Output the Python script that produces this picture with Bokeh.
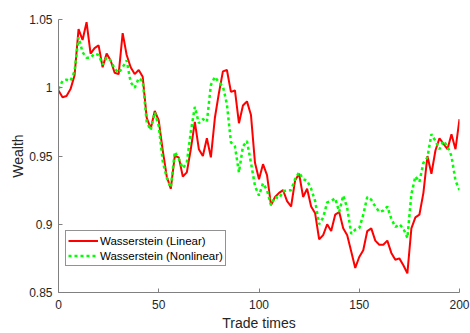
from bokeh.plotting import figure
from bokeh.models import Range1d, FixedTicker, Legend, LegendItem
from bokeh.embed import file_html
from bokeh.resources import INLINE

# ---- data ----
trade_times = list(range(0, 201, 2))

linear = [
    0.998, 0.993, 0.994, 0.999, 1.009,   # 0-8
    1.043, 1.035, 1.048, 1.025, 1.029,   # 10-18
    1.031, 1.015, 1.025, 1.020, 1.011,   # 20-28
    1.010, 1.040, 1.024, 1.015, 1.010,   # 30-38
    1.013, 1.008, 0.978, 0.970, 0.983,   # 40-48
    0.976, 0.954, 0.935, 0.926, 0.950,   # 50-58
    0.949, 0.935, 0.938, 0.955, 0.975,   # 60-68
    0.955, 0.950, 0.963, 0.949, 0.978,   # 70-78
    0.996, 1.012, 1.013, 0.997, 0.998,   # 80-88
    0.974, 0.987, 0.990, 0.980, 0.945,   # 90-98
    0.933, 0.944, 0.936, 0.914, 0.920,   # 100-108
    0.923, 0.925, 0.917, 0.913, 0.932,   # 110-118
    0.937, 0.920, 0.926, 0.913, 0.908,   # 120-128
    0.889, 0.892, 0.900, 0.895, 0.907,   # 130-138
    0.909, 0.897, 0.892, 0.880, 0.868,   # 140-148
    0.876, 0.881, 0.895, 0.897, 0.888,   # 150-158
    0.885, 0.885, 0.888, 0.879, 0.874,   # 160-168
    0.875, 0.870, 0.864, 0.897, 0.905,   # 170-178
    0.907, 0.923, 0.950, 0.937, 0.954,   # 180-188
    0.963, 0.959, 0.955, 0.966, 0.955,   # 190-198
    0.977,                               # 200
]

nonlinear = [
    0.999, 1.005, 1.006, 1.005, 1.012,   # 0-8
    1.037, 1.026, 1.022, 1.022, 1.025,   # 10-18
    1.024, 1.017, 1.022, 1.020, 1.014,   # 20-28
    1.011, 1.015, 1.020, 1.004, 1.000,   # 30-38
    1.007, 1.005, 0.975, 0.969, 0.982,   # 40-48
    0.972, 0.946, 0.934, 0.927, 0.953,   # 50-58
    0.948, 0.941, 0.945, 0.968, 0.986,   # 60-68
    0.974, 0.977, 0.975, 1.002, 1.008,   # 70-78
    1.004, 1.001, 0.988, 0.960, 0.957,   # 80-88
    0.938, 0.957, 0.961, 0.945, 0.928,   # 90-98
    0.921, 0.930, 0.925, 0.914, 0.920,   # 100-108
    0.919, 0.924, 0.925, 0.925, 0.933,   # 110-118
    0.938, 0.933, 0.932, 0.926, 0.917,   # 120-128
    0.900, 0.905, 0.916, 0.917, 0.919,   # 130-138
    0.909, 0.921, 0.912, 0.893, 0.896,   # 140-148
    0.897, 0.907, 0.920, 0.918, 0.913,   # 150-158
    0.909, 0.910, 0.913, 0.904, 0.898,   # 160-168
    0.900, 0.897, 0.890, 0.922, 0.935,   # 170-178
    0.931, 0.945, 0.949, 0.966, 0.961,   # 180-188
    0.955, 0.961, 0.957, 0.950, 0.932,   # 190-198
    0.925,                               # 200
]

x_ticks = [0, 50, 100, 150, 200]
y_ticks = [0.85, 0.9, 0.95, 1.0, 1.05]
y_tick_labels = ["0.85", "0.9", "0.95", "1", "1.05"]
series_names = ["Wasserstein (Linear)", "Wasserstein (Nonlinear)"]

FONT = "Liberation Sans"
TXT = "#262626"
AX = "#808080"

p = figure(width=470, height=333, output_backend="svg", toolbar_location=None,
           x_range=Range1d(0, 200), y_range=Range1d(0.85, 1.05),
           min_border_left=58, min_border_right=11, min_border_top=19,
           min_border_bottom=38)
p.outline_line_color = None
p.grid.visible = False
p.background_fill_color = "white"
p.border_fill_color = "white"

r1 = p.line(trade_times, linear, line_color="#ff0000", line_width=2)
r2 = p.line(trade_times, nonlinear, line_color="#00ff00", line_width=2.5,
            line_dash="3 3")

p.xaxis.ticker = FixedTicker(ticks=x_ticks)
p.yaxis.ticker = FixedTicker(ticks=y_ticks)
p.yaxis.major_label_overrides = dict(zip(y_ticks, y_tick_labels))
p.xaxis.axis_label = "Trade times"
p.yaxis.axis_label = "Wealth"

for ax in (p.xaxis, p.yaxis):
    ax.axis_line_color = AX
    ax.axis_line_width = 1
    ax.major_tick_line_color = AX
    ax.major_tick_in = 4
    ax.major_tick_out = 0
    ax.minor_tick_line_color = None
    ax.major_label_text_font = FONT
    ax.major_label_text_font_size = "12px"
    ax.major_label_text_color = TXT
    ax.axis_label_text_font = FONT
    ax.axis_label_text_font_size = "14px"
    ax.axis_label_text_font_style = "normal"
    ax.axis_label_text_color = TXT
p.xaxis.major_label_standoff = 7
p.xaxis.axis_label_standoff = 3
p.yaxis.major_label_standoff = 6
p.yaxis.axis_label_standoff = 0

legend = Legend(items=[LegendItem(label=series_names[0], renderers=[r1]),
                       LegendItem(label=series_names[1], renderers=[r2])],
                location=(7, 26))
legend.label_text_font = FONT
legend.label_text_font_size = "11.5px"
legend.label_text_color = "#000000"
legend.glyph_width = 30
legend.glyph_height = 15
legend.label_height = 15
legend.spacing = 0
legend.padding = 2
legend.margin = 0
legend.label_standoff = 2
legend.border_line_color = "#262626"
legend.border_line_width = 1
legend.background_fill_color = "white"
legend.background_fill_alpha = 1
p.add_layout(legend)

open("out.html", "w").write(file_html(p, INLINE))
